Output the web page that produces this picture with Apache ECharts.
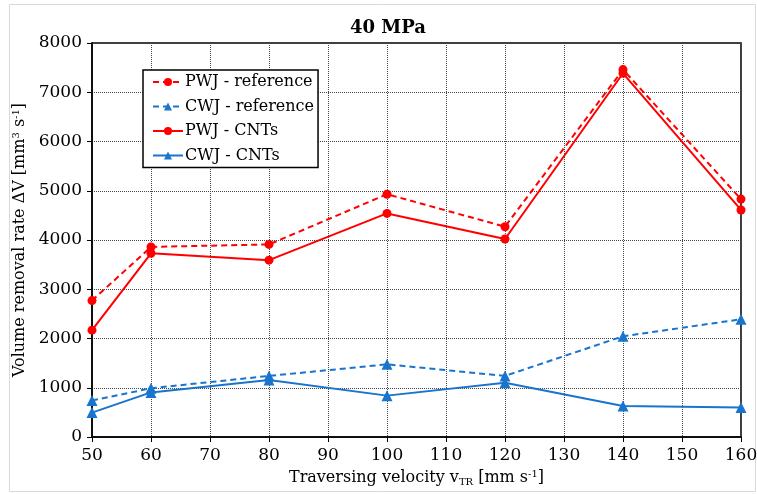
<!DOCTYPE html>
<html>
<head>
<meta charset="utf-8">
<script src="https://cdn.jsdelivr.net/npm/echarts@6/dist/echarts.min.js"></script>
<style>
  html, body { margin: 0; padding: 0; background: #fff; }
  #chart { width: 757px; height: 494px; }
</style>
</head>
<body>
<div id="chart"></div>
<script>
// x 值（mm/s）
const velocity = [50, 60, 80, 100, 120, 140, 160];

// 各系列数据
const pwjRef = [2770, 3860, 3910, 4930, 4270, 7460, 4830];
const cwjRef = [740, 990, 1240, 1475, 1240, 2045, 2390];
const pwjCnt = [2170, 3730, 3590, 4540, 4020, 7385, 4610];
const cwjCnt = [495, 905, 1155, 840, 1100, 630, 600];

const seriesNames = ['PWJ - reference', 'CWJ - reference', 'PWJ - CNTs', 'CWJ - CNTs'];

const RED = '#ff0000';
const BLUE = '#1874cd';
const FONT = 'DejaVu Serif';

function pairs(ys) {
    return velocity.map((x, i) => [x, ys[i]]);
}

function makeSeries(name, ys, color, dashed, symbol) {
    return {
        name: name,
        type: 'line',
        data: pairs(ys),
        symbol: symbol,
        symbolSize: symbol === 'circle' ? 9 : 11,
        itemStyle: { color: color },
        lineStyle: { color: color, width: 2, type: dashed ? [6, 4] : 'solid' },
        z: 3
    };
}

const chart = echarts.init(document.getElementById('chart'));

const option = {
    animation: false,
    backgroundColor: '#fff',
    textStyle: { fontFamily: FONT },
    title: {
        text: '40 MPa',
        left: 345,
        top: 14,
        textStyle: { fontFamily: FONT, fontSize: 18, fontWeight: 'bold', color: '#000' }
    },
    graphic: [{
        type: 'rect',
        shape: { x: 9.5, y: 4.5, width: 746, height: 487 },
        style: { fill: null, stroke: '#d9d9d9', lineWidth: 1 },
        silent: true
    }],
    legend: {
        orient: 'vertical',
        left: 143,
        top: 70,
        data: seriesNames,
        itemWidth: 30,
        itemHeight: 10,
        itemGap: 6.5,
        padding: [3, 4, 3, 9],
        borderColor: '#000',
        borderWidth: 1.5,
        backgroundColor: '#fff',
        textStyle: { fontFamily: FONT, fontSize: 16, lineHeight: 18, color: '#000', padding: [0, 0, 0, -3] }
    },
    grid: {
        left: 92,
        right: 16,
        top: 43,
        bottom: 57,
        outerBoundsMode: 'none',
        show: true,
        borderColor: '#000',
        borderWidth: 1.5
    },
    xAxis: {
        type: 'value',
        min: 50,
        max: 160,
        interval: 10,
        name: '{n|Traversing velocity v}{s|TR}{n| [mm s}{p|-1}{n|]}',
        nameLocation: 'middle',
        nameGap: 32,
        nameTextStyle: {
            rich: {
                n: { fontFamily: FONT, fontSize: 16, color: '#000' },
                s: { fontFamily: FONT, fontSize: 10, color: '#000', verticalAlign: 'bottom', padding: [8, 0, 0, 0] },
                p: { fontFamily: FONT, fontSize: 10, color: '#000', verticalAlign: 'top', padding: [0, 0, 6, 0] }
            }
        },
        axisLine: { lineStyle: { color: '#000', width: 1.5 } },
        axisTick: { show: true, inside: false, length: 5, lineStyle: { color: '#000' } },
        axisLabel: { fontFamily: FONT, fontSize: 17, color: '#000', margin: 10 },
        splitLine: { show: true, lineStyle: { color: '#444', type: [1, 1], width: 1 } }
    },
    yAxis: {
        type: 'value',
        min: 0,
        max: 8000,
        interval: 1000,
        name: '{n|Volume removal rate ΔV [mm}{p|3}{n| s}{p|-1}{n|]}',
        nameLocation: 'middle',
        nameGap: 58,
        nameRotate: 90,
        nameTextStyle: {
            rich: {
                n: { fontFamily: FONT, fontSize: 16, color: '#000' },
                p: { fontFamily: FONT, fontSize: 10, color: '#000', verticalAlign: 'top', padding: [0, 0, 6, 0] }
            }
        },
        axisLine: { show: true, lineStyle: { color: '#000', width: 1.5 } },
        axisTick: { show: true, inside: false, length: 5, lineStyle: { color: '#000' } },
        axisLabel: { fontFamily: FONT, fontSize: 17, color: '#000', margin: 10, formatter: v => String(v) },
        splitLine: { show: true, lineStyle: { color: '#444', type: [1, 1], width: 1 } }
    },
    series: [
        makeSeries(seriesNames[0], pwjRef, RED, true, 'circle'),
        makeSeries(seriesNames[1], cwjRef, BLUE, true, 'triangle'),
        makeSeries(seriesNames[2], pwjCnt, RED, false, 'circle'),
        makeSeries(seriesNames[3], cwjCnt, BLUE, false, 'triangle')
    ]
};

chart.setOption(option);
</script>
</body>
</html>
